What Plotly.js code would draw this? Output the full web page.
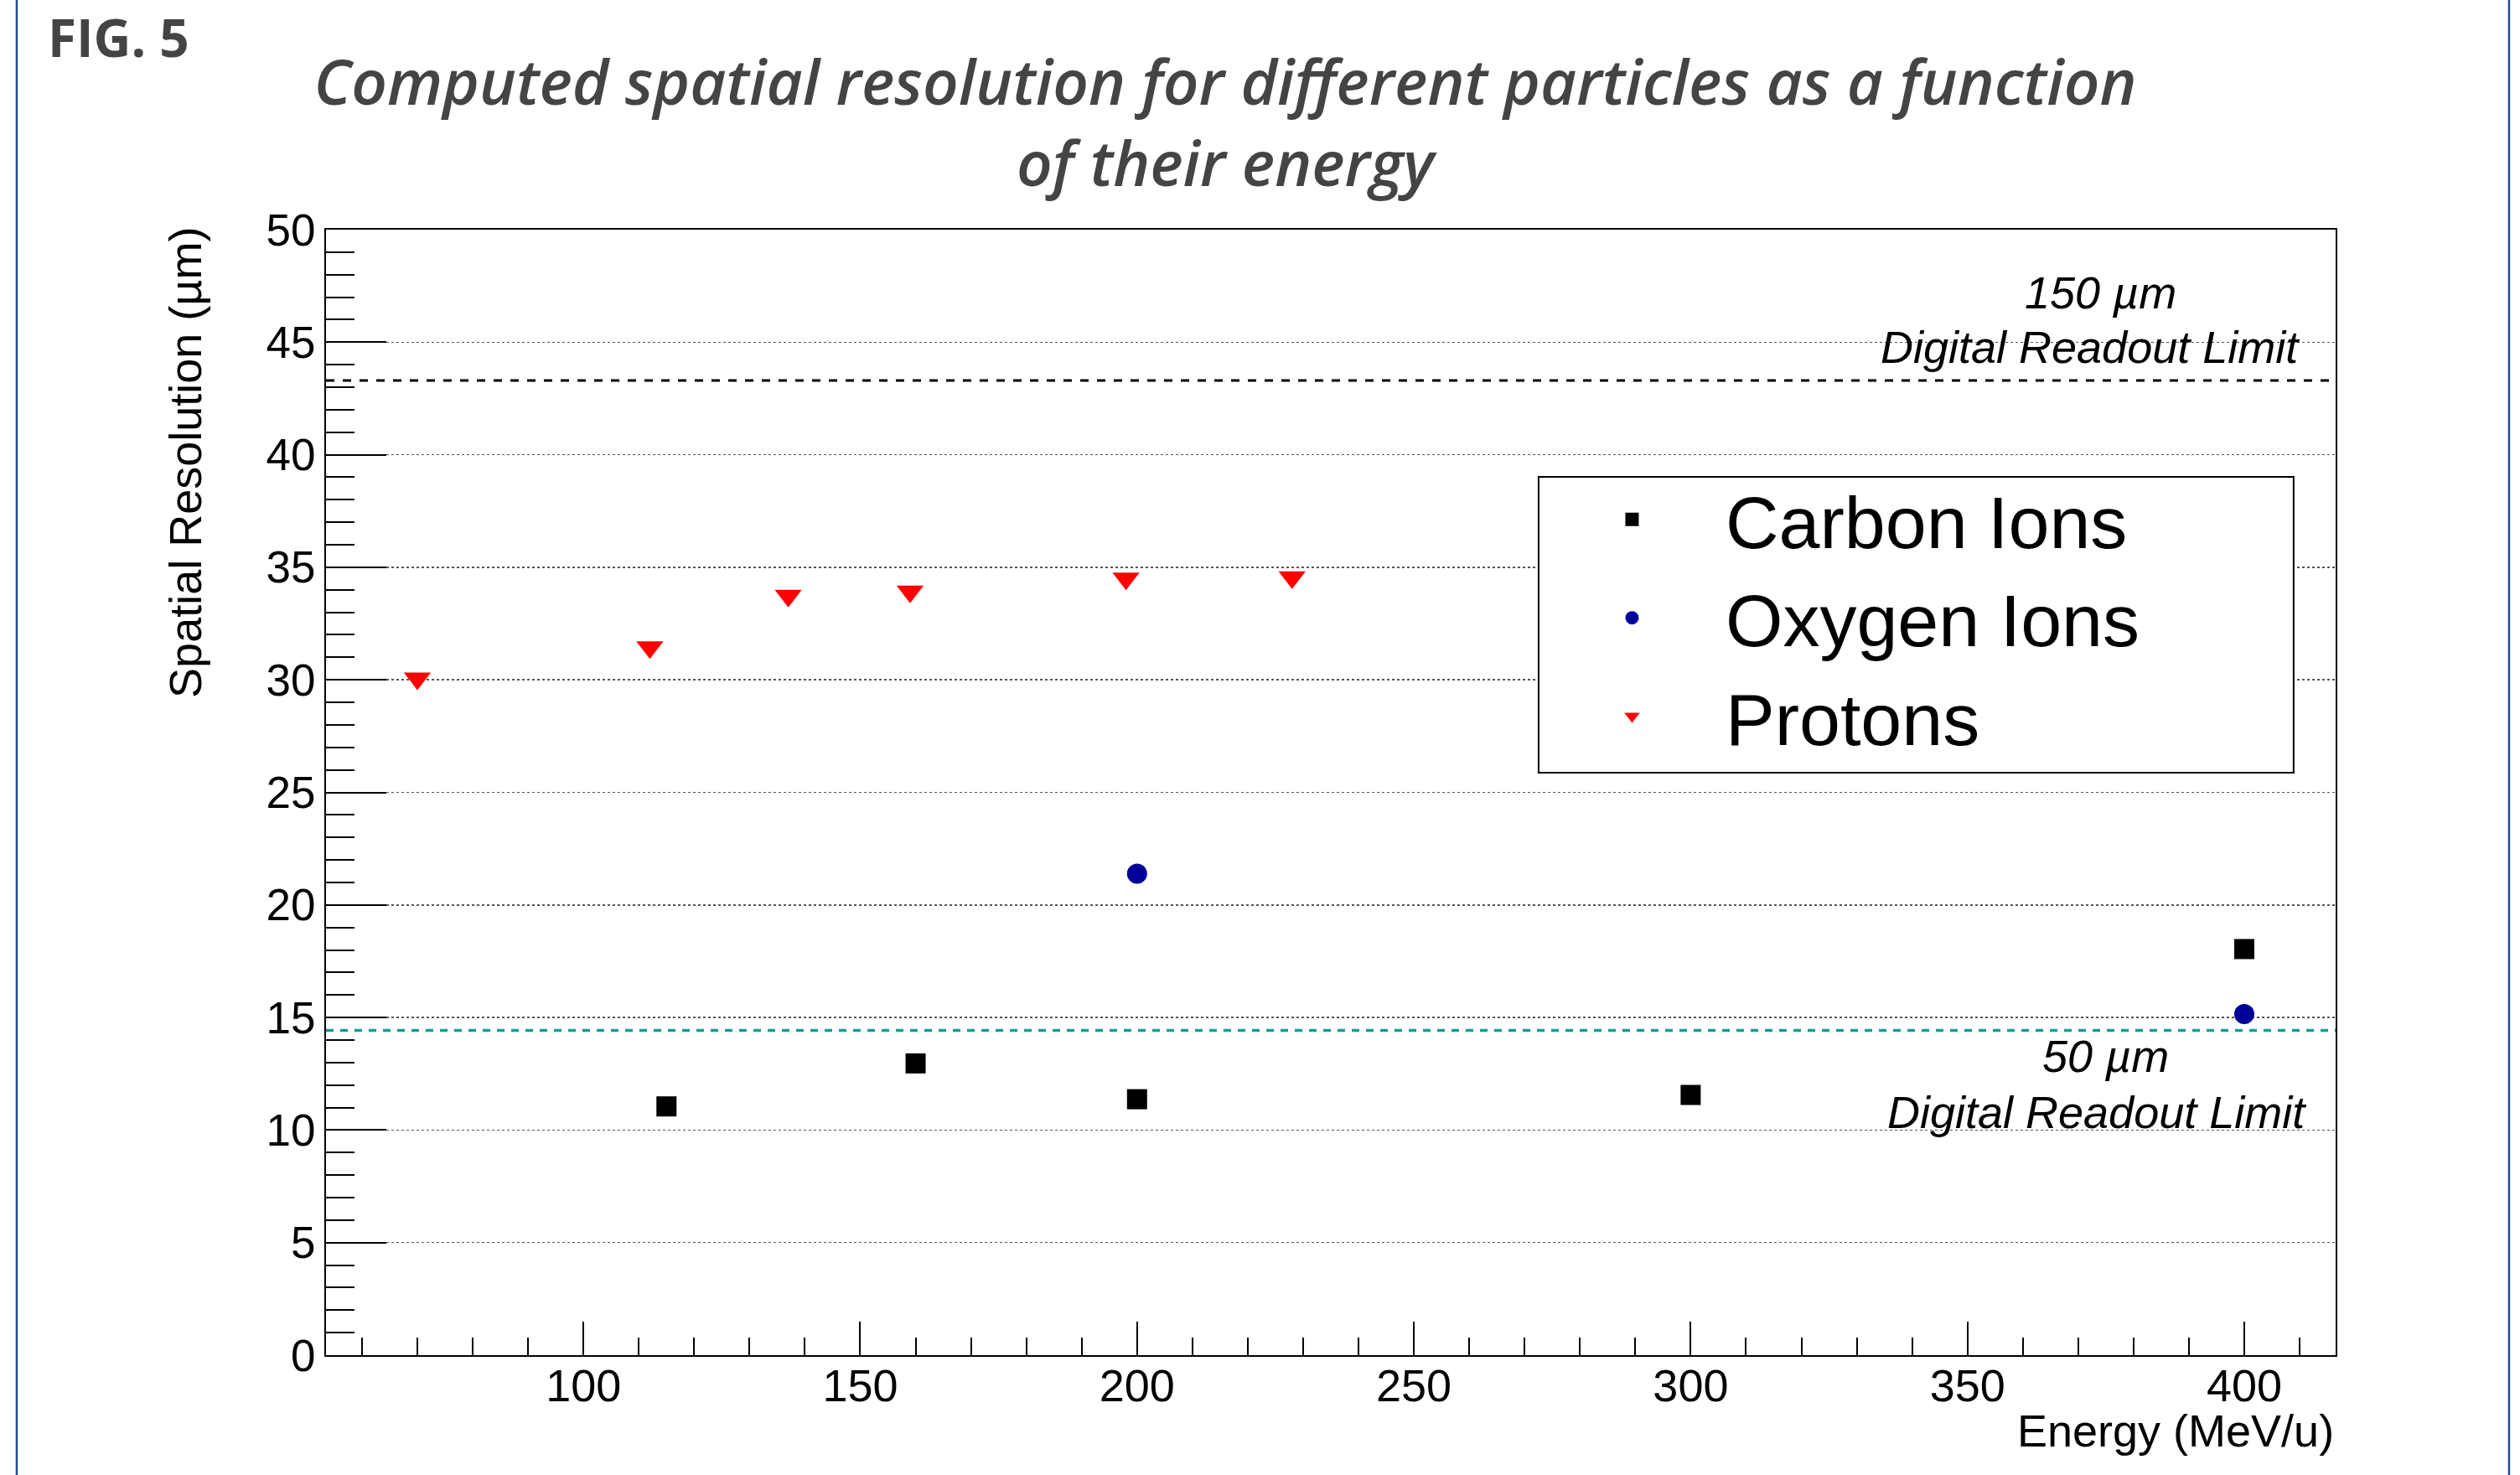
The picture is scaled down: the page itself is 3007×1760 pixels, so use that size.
<!DOCTYPE html>
<html><head><meta charset="utf-8">
<script src="https://cdn.plot.ly/plotly-3.0.1.min.js"></script>
<style>html,body{margin:0;padding:0;background:#fff;}#chart{width:3007px;height:1760px;}</style>
</head><body><div id="chart"></div>
<script>
// ---- data ----
const carbonEnergy = [115, 160, 200, 300, 400];
const carbonRes    = [11.05, 12.96, 11.37, 11.56, 18.04];
const oxygenEnergy = [200, 400];
const oxygenRes    = [21.39, 15.15];
const protonEnergy = [70, 112, 137, 159, 198, 228];
const protonRes    = [30.06, 31.45, 33.74, 33.93, 34.50, 34.56];
const readoutPitch = ['150 µm', '50 µm'];
const readoutLimit = [43.30, 14.43];
const xRange = [53.5, 416.5];
const yRange = [0, 50];

const traces = [
  {x: xRange, y: [readoutLimit[0], readoutLimit[0]], mode: 'lines', showlegend: false, hoverinfo: 'skip',
   line: {color: '#000', width: 3, dash: '10px,10px'}},
  {x: xRange, y: [readoutLimit[1], readoutLimit[1]], mode: 'lines', showlegend: false, hoverinfo: 'skip',
   line: {color: '#119e99', width: 3.5, dash: '9px,8px'}},
  {x: carbonEnergy, y: carbonRes, mode: 'markers', name: 'Carbon Ions',
   marker: {symbol: 'square', size: 24, color: '#000', line: {width: 0}}},
  {x: oxygenEnergy, y: oxygenRes, mode: 'markers', name: 'Oxygen Ions',
   marker: {symbol: 'circle', size: 24, color: '#000099', line: {width: 0}}},
  {x: protonEnergy, y: protonRes, mode: 'markers', name: 'Protons',
   marker: {symbol: 'triangle-down', size: 28, color: '#ff0000', line: {width: 0}}}
];

const italic = {family: 'Liberation Sans, Arial, sans-serif', size: 54, color: '#000'};

const layout = {
  width: 3007, height: 1760, autosize: false,
  paper_bgcolor: '#fff', plot_bgcolor: '#fff',
  margin: {l: 389, r: 220, t: 274, b: 143, pad: 0},
  font: {family: 'Liberation Sans, Arial, sans-serif', color: '#000'},
  title: {
    text: '<i>Computed spatial resolution for different particles as a function<br>of their energy</i>',
    font: {family: 'Open Sans', size: 74.5, weight: 600, color: '#444'},
    x: 0.4862, xanchor: 'center', xref: 'container',
    y: 0.929, yanchor: 'top', yref: 'container'
  },
  showlegend: true,
  legend: {
    x: 0.6034, xanchor: 'left', y: 0.790, yanchor: 'top',
    bgcolor: 'rgba(0,0,0,0)', borderwidth: 0,
    font: {size: 88, color: '#000'}, itemwidth: 213, traceorder: 'normal'
  },
  xaxis: {
    range: xRange, tickmode: 'linear', tick0: 0, dtick: 50,
    ticks: 'inside', ticklen: 40, tickwidth: 2, tickcolor: '#000',
    minor: {tickmode: 'linear', tick0: 0, dtick: 10, ticks: 'inside', ticklen: 21, tickwidth: 2, tickcolor: '#000', showgrid: false},
    showgrid: false, zeroline: false, showline: true, mirror: true,
    linecolor: '#000', linewidth: 2, tickfont: {size: 54, color: '#000'},
    ticklabelstandoff: -12
  },
  yaxis: {
    range: yRange, tickmode: 'linear', tick0: 0, dtick: 5,
    ticks: 'inside', ticklen: 72, tickwidth: 2, tickcolor: '#000',
    minor: {tickmode: 'linear', tick0: 0, dtick: 1, ticks: 'inside', ticklen: 34, tickwidth: 2, tickcolor: '#000', showgrid: false},
    showgrid: true, gridcolor: '#555', gridwidth: 1.5, griddash: 'dot',
    zeroline: false, showline: true, mirror: true,
    linecolor: '#000', linewidth: 2, tickfont: {size: 53, color: '#000'}
  },
  shapes: [
    {type: 'rect', xref: 'paper', yref: 'paper', x0: 0.6034, x1: 0.9791, y0: 0.5175, y1: 0.7803,
     line: {color: '#000', width: 2}, fillcolor: '#fff', layer: 'above'},
    {type: 'line', xref: 'paper', yref: 'paper', x0: -0.1539, x1: -0.1539, y0: -0.2, y1: 1.4,
     line: {color: '#1f4e8c', width: 2.5}},
    {type: 'line', xref: 'paper', yref: 'paper', x0: 1.0863, x1: 1.0863, y0: -0.2, y1: 1.4,
     line: {color: '#1f4e8c', width: 2.5}}
  ],
  annotations: [
    {text: '<b>FIG. 5</b>', xref: 'paper', yref: 'paper', x: -0.1393, xanchor: 'left', y: 1.171, yanchor: 'middle',
     showarrow: false, font: {family: 'Open Sans', size: 62, color: '#444'}},
    {text: 'Spatial Resolution (µm)', xref: 'paper', yref: 'paper', x: -0.0701, xanchor: 'center', y: 0.793, yanchor: 'middle',
     textangle: -90, showarrow: false, font: {size: 54, color: '#000'}},
    {text: 'Energy (MeV/u)', xref: 'paper', yref: 'paper', x: 1, xanchor: 'right', y: -0.067, yanchor: 'middle',
     showarrow: false, font: {size: 54, color: '#000'}},
    {text: '<i>' + readoutPitch[0] + '</i>', xref: 'x', yref: 'y', x: 374.1, y: 47.2, showarrow: false, font: italic},
    {text: '<i>Digital Readout Limit</i>', xref: 'x', yref: 'y', x: 372.2, y: 44.8, showarrow: false, font: italic},
    {text: '<i>' + readoutPitch[1] + '</i>', xref: 'x', yref: 'y', x: 375.0, y: 13.3, showarrow: false, font: italic},
    {text: '<i>Digital Readout Limit</i>', xref: 'x', yref: 'y', x: 373.4, y: 10.78, showarrow: false, font: italic}
  ]
};

Plotly.newPlot('chart', traces, layout, {displayModeBar: false, staticPlot: true});
</script>
</body></html>
